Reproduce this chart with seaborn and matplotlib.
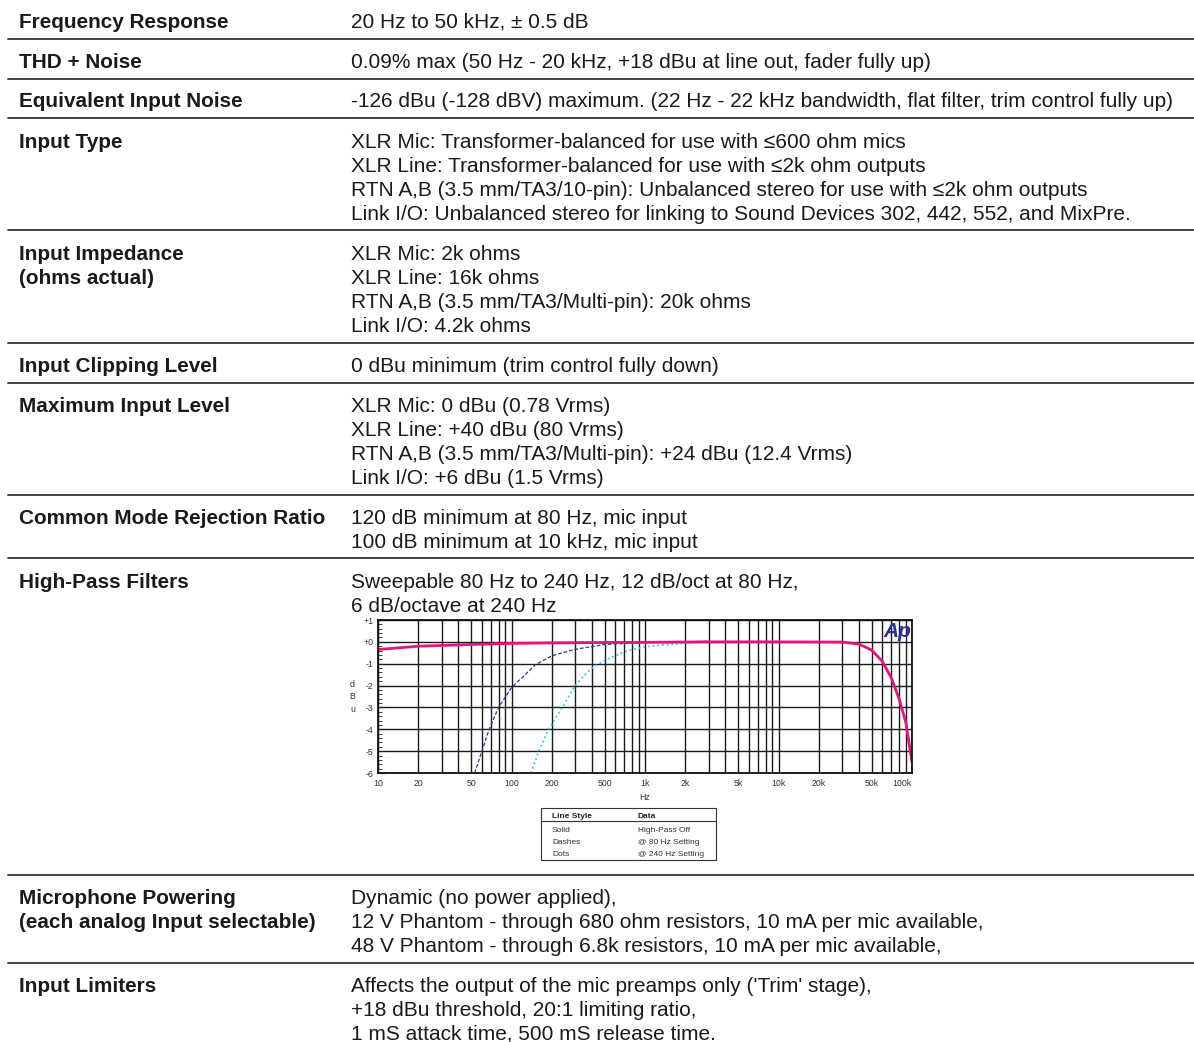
import numpy as np
import pandas as pd
import matplotlib
matplotlib.use('Agg')
import matplotlib.pyplot as plt
import seaborn as sns
from matplotlib import font_manager
from matplotlib.lines import Line2D
from matplotlib.patches import Rectangle
from matplotlib.ticker import FixedLocator, LogLocator, MultipleLocator, NullFormatter

# spec table text
spec_labels = [
    ['Frequency Response'],
    ['THD + Noise'],
    ['Equivalent Input Noise'],
    ['Input Type'],
    ['Input Impedance', '(ohms actual)'],
    ['Input Clipping Level'],
    ['Maximum Input Level'],
    ['Common Mode Rejection Ratio'],
    ['High-Pass Filters'],
    ['Microphone Powering', '(each analog Input selectable)'],
    ['Input Limiters'],
]
spec_values = [
    ['20 Hz to 50 kHz, \u00b1 0.5 dB'],
    ['0.09% max (50 Hz - 20 kHz, +18 dBu at line out, fader fully up)'],
    ['-126 dBu (-128 dBV) maximum. (22 Hz - 22 kHz bandwidth, flat filter, trim control fully up)'],
    ['XLR Mic: Transformer-balanced for use with \u2264600 ohm mics',
     'XLR Line: Transformer-balanced for use with \u22642k ohm outputs',
     'RTN A,B (3.5 mm/TA3/10-pin): Unbalanced stereo for use with \u22642k ohm outputs',
     'Link I/O: Unbalanced stereo for linking to Sound Devices 302, 442, 552, and MixPre.'],
    ['XLR Mic: 2k ohms', 'XLR Line: 16k ohms',
     'RTN A,B (3.5 mm/TA3/Multi-pin): 20k ohms', 'Link I/O: 4.2k ohms'],
    ['0 dBu minimum (trim control fully down)'],
    ['XLR Mic: 0 dBu (0.78 Vrms)', 'XLR Line: +40 dBu (80 Vrms)',
     'RTN A,B (3.5 mm/TA3/Multi-pin): +24 dBu (12.4 Vrms)', 'Link I/O: +6 dBu (1.5 Vrms)'],
    ['120 dB minimum at 80 Hz, mic input', '100 dB minimum at 10 kHz, mic input'],
    ['Sweepable 80 Hz to 240 Hz, 12 dB/oct at 80 Hz,', '6 dB/octave at 240 Hz'],
    ['Dynamic (no power applied),',
     '12 V Phantom - through 680 ohm resistors, 10 mA per mic available,',
     '48 V Phantom - through 6.8k resistors, 10 mA per mic available,'],
    ["Affects the output of the mic preamps only ('Trim' stage),",
     '+18 dBu threshold, 20:1 limiting ratio,',
     '1 mS attack time, 500 mS release time.'],
]

# frequency response curves (Hz, dBu)
hp_off_hz = [10, 20, 50, 100, 200, 500, 1000, 3000, 10000, 30000, 40000,
             50000, 60000, 70000, 80000, 90000, 100000]
hp_off_db = [-0.35, -0.2, -0.12, -0.07, -0.05, -0.03, -0.02, 0.0, 0.0, -0.01, -0.1,
             -0.38, -0.9, -1.65, -2.6, -3.7, -5.5]
hp80_hz = [53, 60, 68, 80, 100, 150, 200, 300, 500, 1000, 2000, 3000]
hp80_db = [-6, -5, -4, -3, -2.1, -1.06, -0.64, -0.34, -0.12, -0.03, 0.0, 0.03]
hp240_hz = [140, 160, 190, 240, 300, 350, 400, 500, 700, 1000, 2000, 3000]
hp240_db = [-6, -5, -4, -3, -2, -1.55, -1.2, -0.85, -0.45, -0.22, -0.06, 0.02]

x_ticks = [10, 20, 50, 100, 200, 500, 1000, 2000, 5000, 10000, 20000, 50000, 100000]
x_ticklabels = ['10', '20', '50', '100', '200', '500', '1k', '2k', '5k', '10k', '20k', '50k', '100k']
y_ticks = [-6, -5, -4, -3, -2, -1, 0, 1]
y_ticklabels = ['-6', '-5', '-4', '-3', '-2', '-1', '+0', '+1']

legend_rows = [('Solid', 'High-Pass Off'), ('Dashes', '@ 80 Hz Setting'), ('Dots', '@ 240 Hz Setting')]

W, H = 1194, 1042

sns.set_theme(style='white')
names = {f.name for f in font_manager.fontManager.ttflist}
main_font = 'Liberation Sans Narrow' if 'Liberation Sans Narrow' in names else 'Liberation Sans'
plt.rcParams['font.family'] = [main_font, 'DejaVu Sans']

fig = plt.figure(figsize=(W / 100, H / 100), dpi=100)
fig.patch.set_facecolor('white')
renderer = fig.canvas.get_renderer()


def fx(x):
    return x / W


def fy(y):
    return 1 - y / H


def fit_size(text, target_px, **kw):
    t = fig.text(0, 0, text, fontsize=10, **kw)
    w = t.get_window_extent(renderer).width
    t.remove()
    return 10 * target_px / w


label_fs = fit_size('Common Mode Rejection Ratio', 306, fontweight='bold')
value_fs = fit_size(spec_values[2][0], 829)

# row layout (pixel baselines of first line) and separators
row_base = [28, 68, 107, 148, 260, 372, 412, 524, 588, 904, 992]
sep_y = [39, 79, 118, 230, 343, 383, 495, 558, 875, 963]
line_step = 24

for base, labs, vals in zip(row_base, spec_labels, spec_values):
    for i, s in enumerate(labs):
        fig.text(fx(19), fy(base + i * line_step), s, fontsize=label_fs,
                 fontweight='bold', color='#1a1a1a', va='baseline', ha='left')
    for i, s in enumerate(vals):
        fig.text(fx(351), fy(base + i * line_step), s, fontsize=value_fs,
                 color='#1a1a1a', va='baseline', ha='left')

for y in sep_y:
    fig.add_artist(Line2D([fx(8), 1.0], [fy(y), fy(y)], color='#333333', lw=1.3))

# embedded frequency response chart
ax = fig.add_axes([fx(378), fy(773), (912 - 378) / W, (773 - 620) / H])
ax.set_xscale('log')
sns.lineplot(x=hp240_hz, y=hp240_db, ax=ax, color='#3cc4ee', lw=1.3,
             linestyle=(0, (1, 1.6)), estimator=None, sort=False)
sns.lineplot(x=hp80_hz, y=hp80_db, ax=ax, color='#33339a', lw=0.9,
             linestyle=(0, (3, 1.5)), estimator=None, sort=False)
sns.lineplot(x=hp_off_hz, y=hp_off_db, ax=ax, color='#e8127f', lw=2.0,
             estimator=None, sort=False)

ax.set_xlim(10, 100000)
ax.set_ylim(-6, 1)
ax.xaxis.set_major_locator(FixedLocator(x_ticks))
ax.set_xticklabels(x_ticklabels)
ax.xaxis.set_minor_locator(LogLocator(base=10, subs=np.arange(1, 10)))
ax.xaxis.set_minor_formatter(NullFormatter())
ax.set_yticks(y_ticks)
ax.set_yticklabels(y_ticklabels)
ax.yaxis.set_minor_locator(MultipleLocator(0.2))
ax.grid(which='both', axis='x', color='#1a1a1a', lw=1.0)
ax.grid(which='major', axis='y', color='#1a1a1a', lw=1.0)
ax.set_axisbelow(True)
ax.tick_params(axis='x', which='both', length=0, pad=4, labelsize=6.3, labelcolor='#333333')
ax.tick_params(axis='y', which='major', direction='in', length=5, width=0.8,
               pad=3, labelsize=6.3, labelcolor='#333333', left=True)
ax.tick_params(axis='y', which='minor', direction='in', length=3, width=0.6, left=True)
labs = ax.get_xticklabels()
labs[-1].set_ha('right')
for sp in ax.spines.values():
    sp.set_color('#111111')
    sp.set_linewidth(1.3)
ax.set_xlabel('Hz', fontsize=6.3, color='#333333', labelpad=4)
ax.set_ylabel('d\nB\nu', rotation=0, fontsize=6.3, color='#333333', va='center',
              ha='center', linespacing=1.5)
ax.yaxis.set_label_coords(-0.048, 0.5)
ax.text(0.998, 0.99, 'Ap', transform=ax.transAxes, ha='right', va='top',
        fontsize=15, fontweight='bold', fontstyle='italic', color='#2e3192',
        family='Liberation Sans')

# legend table below the chart
box = Rectangle((fx(541), fy(860)), (716 - 541) / W, (860 - 808) / H,
                transform=fig.transFigure, fill=False, edgecolor='#333333', lw=0.8)
fig.add_artist(box)
fig.add_artist(Line2D([fx(541), fx(716)], [fy(821), fy(821)], color='#333333', lw=0.8))
fig.text(fx(552), fy(816), 'Line Style', fontsize=6, fontweight='bold',
         va='center', ha='left', color='#222222', family='Liberation Sans')
fig.text(fx(638), fy(816), 'Data', fontsize=6, fontweight='bold',
         va='center', ha='left', color='#222222', family='Liberation Sans')
for i, (style, desc) in enumerate(legend_rows):
    y = 830 + i * 12
    fig.text(fx(552), fy(y), style, fontsize=6, va='center', ha='left',
             color='#333333', family='Liberation Sans')
    fig.text(fx(638), fy(y), desc, fontsize=6, va='center', ha='left',
             color='#333333', family='Liberation Sans')

fig.savefig('out.png', dpi=100, facecolor='white')
